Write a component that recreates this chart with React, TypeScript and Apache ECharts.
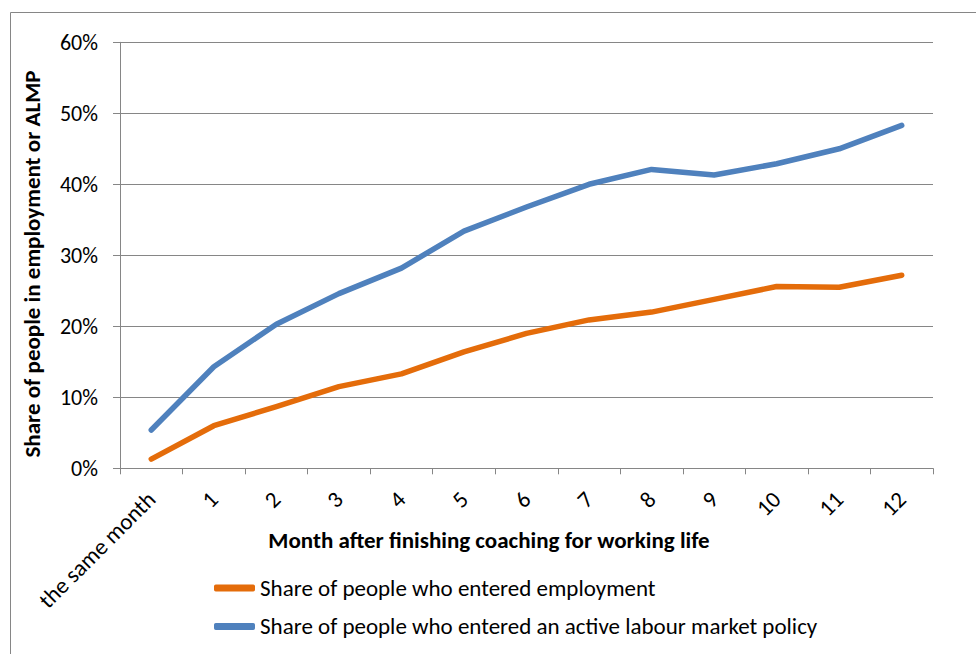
import React, { useEffect, useRef } from "react";
import * as echarts from "echarts";

const categories = ["the same month", "1", "2", "3", "4", "5", "6", "7", "8", "9", "10", "11", "12"];
const employment = [1.3, 6.0, 8.7, 11.5, 13.3, 16.4, 19.0, 20.9, 22.0, 23.8, 25.6, 25.5, 27.2];
const almp = [5.4, 14.3, 20.3, 24.6, 28.2, 33.4, 36.8, 40.0, 42.1, 41.3, 42.9, 45.0, 48.3];
const yTicks = [0, 10, 20, 30, 40, 50, 60];
const seriesNames = [
  "Share of people who entered employment",
  "Share of people who entered an active labour market policy",
];
const xAxisTitle = "Month after finishing coaching for working life";
const yAxisTitle = "Share of people in employment or ALMP";

const FONT = "Carlito, Calibri, Lato, sans-serif";
const GRAY = "#868686";

export default function App() {
  const ref = useRef<HTMLDivElement>(null);
  useEffect(() => {
    if (!ref.current) return;
    const chart = echarts.init(ref.current, null, { renderer: "svg" });
    chart.setOption({
      animation: false,
      backgroundColor: "#ffffff",
      textStyle: { fontFamily: FONT },
      grid: { left: 120, right: 43, top: 42.3, bottom: 185.7, containLabel: false },
      graphic: [
        {
          type: "rect",
          shape: { x: 10.5, y: 12.5, width: 1000, height: 700 },
          style: { fill: "none", stroke: GRAY, lineWidth: 1 },
          silent: true,
        },
        {
          type: "text",
          x: 489,
          y: 540,
          style: {
            text: xAxisTitle,
            font: `bold 23px ${FONT}`,
            fill: "#000",
            align: "center",
            verticalAlign: "middle",
          },
        },
        {
          type: "text",
          x: 32,
          y: 264,
          rotation: Math.PI / 2,
          style: {
            text: yAxisTitle,
            font: `bold 23px ${FONT}`,
            fill: "#000",
            align: "center",
            verticalAlign: "middle",
          },
        },
      ],
      legend: {
        orient: "vertical",
        left: 214,
        top: 576,
        padding: 0,
        itemWidth: 41,
        itemHeight: 7,
        itemGap: 14.4,
        icon: "roundRect",
        textStyle: { fontFamily: FONT, fontSize: 23, lineHeight: 24, color: "#000" },
        data: seriesNames,
      },
      xAxis: {
        type: "category",
        data: categories,
        boundaryGap: true,
        axisLine: { lineStyle: { color: GRAY, width: 1 } },
        axisTick: { show: true, interval: 0, length: 6, lineStyle: { color: GRAY } },
        axisLabel: {
          interval: 0,
          rotate: 45,
          margin: 27,
          fontFamily: FONT,
          fontSize: 23,
          color: "#000",
        },
      },
      yAxis: {
        type: "value",
        min: 0,
        max: 60,
        interval: 10,
        axisLine: { show: true, lineStyle: { color: GRAY, width: 1 } },
        axisTick: { show: true, length: 7, lineStyle: { color: GRAY } },
        splitLine: { show: true, lineStyle: { color: GRAY, width: 1 } },
        axisLabel: {
          margin: 22,
          fontFamily: FONT,
          fontSize: 22,
          color: "#000",
          formatter: (v: number) => (yTicks.includes(v) ? `${v}%` : ""),
        },
      },
      series: [
        {
          name: seriesNames[0],
          type: "line",
          data: employment,
          symbol: "none",
          color: "#E46C0A",
          lineStyle: { width: 5.5, color: "#E46C0A", cap: "round", join: "round" },
          z: 3,
        },
        {
          name: seriesNames[1],
          type: "line",
          data: almp,
          symbol: "none",
          color: "#4F81BD",
          lineStyle: { width: 5.5, color: "#4F81BD", cap: "round", join: "round" },
          z: 3,
        },
      ],
    });
    return () => chart.dispose();
  }, []);
  return <div ref={ref} style={{ width: 976, height: 654, position: "absolute", left: 0, top: 0 }} />;
}
